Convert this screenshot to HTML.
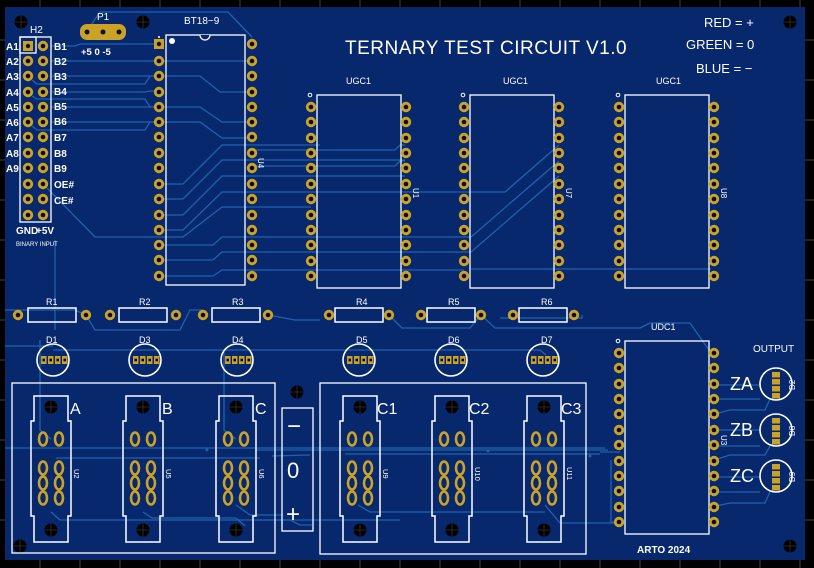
<!DOCTYPE html>
<html><head><meta charset="utf-8"><style>
html,body{margin:0;padding:0;background:#000;}
svg{display:block;}
text{font-family:"Liberation Sans",sans-serif;fill:#fff;}
</style></head><body>
<svg width="814" height="568" viewBox="0 0 814 568" xmlns="http://www.w3.org/2000/svg">
<defs>
<g id="p"><circle r="5.2" fill="#c9a227"/><circle r="2.3" fill="#0a0a0a"/></g>
<g id="o"><ellipse rx="4" ry="6.5" fill="none" stroke="#c9a227" stroke-width="2.6"/></g>
<g id="h"><circle r="6.5" fill="#000"/><path d="M-6.5 0H6.5M0 -6.5V6.5" stroke="#333" stroke-width="0.8"/></g>
<g id="led"><circle r="16" fill="none" stroke="#fff" stroke-width="1.6"/>
<rect x="-12" y="-4" width="5.5" height="8" fill="#c9a227"/><rect x="-5" y="-4" width="5.5" height="8" fill="#c9a227"/><rect x="2" y="-4" width="5.5" height="8" fill="#c9a227"/><rect x="9" y="-4" width="5.5" height="8" fill="#c9a227"/>
<rect x="-10.5" y="-1.3" width="2.5" height="2.6" fill="#000"/><rect x="-3.5" y="-1.3" width="2.5" height="2.6" fill="#000"/><rect x="3.5" y="-1.3" width="2.5" height="2.6" fill="#000"/><rect x="10.5" y="-1.3" width="2.5" height="2.6" fill="#000"/></g>
<g id="ledv"><circle r="16" fill="none" stroke="#fff" stroke-width="1.6"/>
<rect x="-4" y="-12" width="8" height="5.5" fill="#c9a227"/><rect x="-4" y="-5" width="8" height="5.5" fill="#c9a227"/><rect x="-4" y="2" width="8" height="5.5" fill="#c9a227"/><rect x="-4" y="9" width="8" height="5.5" fill="#c9a227"/></g>
<g id="con">
<path d="M-17 -11H17V14H20V109H17V135H-17V109H-20V14H-17Z" fill="none" stroke="#fff" stroke-width="1.5"/>
<use href="#h" x="0" y="0"/><use href="#h" x="0" y="123"/>
<use href="#o" x="-8" y="32"/><use href="#o" x="8" y="32"/>
<use href="#o" x="-8" y="61"/><use href="#o" x="8" y="61"/>
<use href="#o" x="-8" y="76"/><use href="#o" x="8" y="76"/>
<use href="#o" x="-8" y="91"/><use href="#o" x="8" y="91"/>
</g>
<g id="res"><rect x="-24" y="-7" width="48" height="14" fill="none" stroke="#fff" stroke-width="1.5"/></g>
</defs>
<rect width="814" height="568" fill="#000"/>
<g stroke="#444" stroke-width="1">
<path d="M0 40H5M0 80H5M0 120H5M0 160H5M0 200H5M0 240H5M0 280H5M0 320H5M0 360H5M0 400H5M0 440H5M0 480H5M0 520H5M805 40H814M805 80H814M805 120H814M805 160H814M805 200H814M805 240H814M805 280H814M805 320H814M805 360H814M805 400H814M805 440H814M805 480H814M805 520H814"/>
<path d="M40 0V7M80 0V7M120 0V7M160 0V7M200 0V7M240 0V7M280 0V7M320 0V7M360 0V7M400 0V7M440 0V7M480 0V7M520 0V7M560 0V7M600 0V7M640 0V7M680 0V7M720 0V7M760 0V7M800 0V7M40 560V568M80 560V568M120 560V568M160 560V568M200 560V568M240 560V568M280 560V568M320 560V568M360 560V568M400 560V568M440 560V568M480 560V568M520 560V568M560 560V568M600 560V568M640 560V568M680 560V568M720 560V568M760 560V568M800 560V568"/>
</g>
<rect x="5" y="7" width="800" height="553" fill="#07286c"/>

<g fill="none" stroke="#2062ad" stroke-width="1.3">
<path d="M89 28L100 12H228L252 37"/>
<path d="M51 46H75L80 44H159"/>
<path d="M51 61H233L240 61H252"/>
<path d="M51 76H200L220 92H252"/>
<path d="M32 80L37 84H145L150 76H159"/>
<path d="M51 92H145L150 91H159"/>
<path d="M32 96L37 99H145L150 107H159"/>
<path d="M51 107H200L222 122H252"/>
<path d="M32 126L37 130H145L150 122H159"/>
<path d="M51 122H200L222 138H252"/>
<path d="M159 184H183L222 145H320"/>
<path d="M159 199H183L222 160H405"/>
<path d="M159 215H183L222 176H405"/>
<path d="M159 230H183L222 192H311"/>
<path d="M47 188L95 237H183L222 207H311"/>
<path d="M159 245H213L222 237H311"/>
<path d="M159 260H213L222 252H311"/>
<path d="M159 276H213L222 270H464"/>
<path d="M252 150H395L400 145H405"/>
<path d="M252 166H395L400 161H405"/>
<path d="M311 192H505L559 145"/>
<path d="M311 237H471L559 161"/>
<path d="M311 252H471L559 176"/>
<path d="M471 269H711"/>
<path d="M55 240V330"/>
<path d="M86 315L95 330H180L190 310H203"/>
<path d="M268 315L295 320H320"/>
<path d="M389 315L402 328H470L481 315"/>
<path d="M5 310H75L86 315"/>
<path d="M500 318L582 318V315M574 315V318"/>
<path d="M481 315L495 328H640L650 323H690L711 353"/>
<path d="M5 346H53M53 350H330L359 350M359 350H454M454 350H540L546 355"/>
<path d="M40 340V430L51 439"/>
<path d="M224 350V430L236 439"/>
<path d="M5 448H605M255 450H608M600 452H620"/>
<path d="M56 458H260M272 456L310 455M345 454H600"/>
<path d="M51 512L60 520H400"/>
<path d="M143 512L152 518H236M236 518L245 526"/>
<path d="M257 520H290L300 525H312"/>
<path d="M236 505L250 515H283"/>
<path d="M358 505L370 512H545"/>
<path d="M545 505L560 523H619"/>
<path d="M611 460V522H619"/>
<path d="M711 399H760M711 385H760M711 415L730 410H765L770 399"/>
<path d="M711 430H760M711 446H760M711 461L730 455H765L770 446"/>
<path d="M711 477H760M711 492H760M711 507L730 503H765L770 492"/>
</g>
<g fill="#2062ad"><circle cx="207" cy="450" r="1.5"/><circle cx="488" cy="451" r="1.5"/><circle cx="590" cy="456" r="1.5"/></g>

<use href="#h" x="21" y="22"/><use href="#h" x="143" y="22"/><use href="#h" x="790" y="22"/>
<use href="#h" x="20" y="546"/><use href="#h" x="297" y="392"/><use href="#h" x="790" y="546"/>

<rect x="20" y="37" width="31" height="185" fill="none" stroke="#fff" stroke-width="1.3"/>
<rect x="20" y="37" width="16" height="16" fill="none" stroke="#fff" stroke-width="1.3"/>
<rect x="23" y="41" width="10" height="10" fill="#c9a227"/><circle cx="28" cy="46" r="2.2" fill="#111"/>
<g>
<use href="#p" x="43" y="46"/>
<use href="#p" x="28" y="61"/><use href="#p" x="43" y="61"/>
<use href="#p" x="28" y="76"/><use href="#p" x="43" y="76"/>
<use href="#p" x="28" y="92"/><use href="#p" x="43" y="92"/>
<use href="#p" x="28" y="107"/><use href="#p" x="43" y="107"/>
<use href="#p" x="28" y="122"/><use href="#p" x="43" y="122"/>
<use href="#p" x="28" y="137"/><use href="#p" x="43" y="137"/>
<use href="#p" x="28" y="153"/><use href="#p" x="43" y="153"/>
<use href="#p" x="28" y="168"/><use href="#p" x="43" y="168"/>
<use href="#p" x="28" y="184"/><use href="#p" x="43" y="184"/>
<use href="#p" x="28" y="199"/><use href="#p" x="43" y="199"/>
<use href="#p" x="28" y="215"/><use href="#p" x="43" y="215"/>
</g>
<g font-size="10" font-weight="bold">
<text x="6" y="50">A1</text><text x="6" y="65">A2</text><text x="6" y="80">A3</text><text x="6" y="96">A4</text><text x="6" y="111">A5</text><text x="6" y="126">A6</text><text x="6" y="141">A7</text><text x="6" y="157">A8</text><text x="6" y="172">A9</text>
<text x="54" y="50">B1</text><text x="54" y="65">B2</text><text x="54" y="80">B3</text><text x="54" y="95">B4</text><text x="54" y="110">B5</text><text x="54" y="125">B6</text><text x="54" y="141">B7</text><text x="54" y="157">B8</text><text x="54" y="172">B9</text><text x="54" y="188">OE#</text><text x="54" y="204">CE#</text>
<text x="16" y="234">GND</text><text x="36" y="234">+5V</text>
</g>
<text x="30" y="33" font-size="10">H2</text>
<text x="16" y="246" font-size="6">BINARY INPUT</text>

<rect x="80" y="24" width="46" height="16" rx="7" fill="#c9a227"/>
<circle cx="87" cy="32" r="2.5" fill="#111"/><circle cx="103" cy="32" r="2.5" fill="#111"/><circle cx="119" cy="32" r="2.5" fill="#111"/>
<text x="97" y="20" font-size="10">P1</text>
<text x="81" y="55" font-size="9.5" font-weight="bold">+5  0  -5</text>

<rect x="166" y="35" width="79" height="250" fill="none" stroke="#fff" stroke-width="1.3"/>
<path d="M200 35A5 5 0 0 0 210 35" fill="#07286c" stroke="#fff" stroke-width="1.3"/>
<circle cx="172" cy="41" r="3" fill="#fff"/><circle cx="159" cy="37" r="1" fill="#fff"/>
<rect x="154" y="39" width="10" height="10" fill="#c9a227"/><circle cx="159" cy="44" r="2.2" fill="#111"/>
<text x="184" y="24" font-size="10">BT18−9</text>
<text x="258" y="158" font-size="8" transform="rotate(90 258 158)">U4</text>
<g>
<use href="#p" x="252" y="44"/>
<use href="#p" x="159" y="61"/><use href="#p" x="252" y="61"/>
<use href="#p" x="159" y="76"/><use href="#p" x="252" y="76"/>
<use href="#p" x="159" y="92"/><use href="#p" x="252" y="92"/>
<use href="#p" x="159" y="107"/><use href="#p" x="252" y="107"/>
<use href="#p" x="159" y="122"/><use href="#p" x="252" y="122"/>
<use href="#p" x="159" y="137"/><use href="#p" x="252" y="137"/>
<use href="#p" x="159" y="153"/><use href="#p" x="252" y="153"/>
<use href="#p" x="159" y="168"/><use href="#p" x="252" y="168"/>
<use href="#p" x="159" y="184"/><use href="#p" x="252" y="184"/>
<use href="#p" x="159" y="199"/><use href="#p" x="252" y="199"/>
<use href="#p" x="159" y="215"/><use href="#p" x="252" y="215"/>
<use href="#p" x="159" y="230"/><use href="#p" x="252" y="230"/>
<use href="#p" x="159" y="245"/><use href="#p" x="252" y="245"/>
<use href="#p" x="159" y="260"/><use href="#p" x="252" y="260"/>
<use href="#p" x="159" y="276"/><use href="#p" x="252" y="276"/>
</g>

<g id="chip1">
<rect x="317" y="95" width="84" height="193" fill="none" stroke="#fff" stroke-width="1.3"/>
<circle cx="310" cy="95" r="1.8" fill="none" stroke="#fff"/>
<use href="#p" x="311" y="107"/><use href="#p" x="406" y="107"/>
<use href="#p" x="311" y="122"/><use href="#p" x="406" y="122"/>
<use href="#p" x="311" y="138"/><use href="#p" x="406" y="138"/>
<use href="#p" x="311" y="153"/><use href="#p" x="406" y="153"/>
<use href="#p" x="311" y="168"/><use href="#p" x="406" y="168"/>
<use href="#p" x="311" y="184"/><use href="#p" x="406" y="184"/>
<use href="#p" x="311" y="199"/><use href="#p" x="406" y="199"/>
<use href="#p" x="311" y="215"/><use href="#p" x="406" y="215"/>
<use href="#p" x="311" y="230"/><use href="#p" x="406" y="230"/>
<use href="#p" x="311" y="245"/><use href="#p" x="406" y="245"/>
<use href="#p" x="311" y="261"/><use href="#p" x="406" y="261"/>
<use href="#p" x="311" y="276"/><use href="#p" x="406" y="276"/>
</g>
<use href="#chip1" x="153" y="0"/>
<use href="#chip1" x="308" y="0"/>
<use href="#chip1" x="308" y="246"/>
<text x="346" y="84" font-size="9">UGC1</text>
<text x="503" y="84" font-size="9">UGC1</text>
<text x="656" y="84" font-size="9">UGC1</text>
<text x="413" y="188" font-size="8" transform="rotate(90 413 188)">U1</text>
<text x="566" y="188" font-size="8" transform="rotate(90 566 188)">U7</text>
<text x="721" y="188" font-size="8" transform="rotate(90 721 188)">U8</text>
<text x="651" y="330" font-size="9">UDC1</text>
<text x="721" y="435" font-size="8" transform="rotate(90 721 435)">U3</text>
<text x="637" y="553" font-size="10" font-weight="bold">ARTO 2024</text>

<g>
<use href="#res" x="52" y="315"/><use href="#p" x="18" y="315"/><use href="#p" x="86" y="315"/>
<use href="#res" x="143" y="315"/><use href="#p" x="110" y="315"/><use href="#p" x="176" y="315"/>
<use href="#res" x="236" y="315"/><use href="#p" x="203" y="315"/><use href="#p" x="268" y="315"/>
<use href="#res" x="359" y="315"/><use href="#p" x="329" y="315"/><use href="#p" x="389" y="315"/>
<use href="#res" x="451" y="315"/><use href="#p" x="421" y="315"/><use href="#p" x="481" y="315"/>
<use href="#res" x="543" y="315"/><use href="#p" x="513" y="315"/><use href="#p" x="574" y="315"/>
</g>
<g font-size="9">
<text x="46" y="305">R1</text><text x="139" y="305">R2</text><text x="232" y="305">R3</text><text x="356" y="305">R4</text><text x="448" y="305">R5</text><text x="541" y="305">R6</text>
<text x="46" y="343">D1</text><text x="139" y="343">D3</text><text x="232" y="343">D4</text><text x="356" y="343">D5</text><text x="448" y="343">D6</text><text x="541" y="343">D7</text>
</g>
<use href="#led" x="53" y="360"/><use href="#led" x="145" y="360"/><use href="#led" x="237" y="360"/>
<use href="#led" x="359" y="360"/><use href="#led" x="451" y="360"/><use href="#led" x="543" y="360"/>

<rect x="12" y="383" width="263" height="170" fill="none" stroke="#fff" stroke-width="1.3"/>
<rect x="320" y="383" width="266" height="171" fill="none" stroke="#fff" stroke-width="1.3"/>
<rect x="282" y="408" width="31" height="123" fill="none" stroke="#fff" stroke-width="1.3"/>
<text x="287" y="434" font-size="24">−</text>
<text x="287" y="478" font-size="22">0</text>
<text x="286" y="522" font-size="24">+</text>
<use href="#con" x="51" y="407"/><use href="#con" x="143" y="407"/><use href="#con" x="236" y="407"/>
<use href="#con" x="360" y="407"/><use href="#con" x="452" y="407"/><use href="#con" x="544" y="407"/>
<g font-size="16">
<text x="70" y="414">A</text><text x="162" y="414">B</text><text x="255" y="414">C</text>
<text x="377" y="414">C1</text><text x="469" y="414">C2</text><text x="561" y="414">C3</text>
</g>
<g font-size="7.5">
<text x="74" y="469" transform="rotate(90 74 469)">U2</text>
<text x="166" y="469" transform="rotate(90 166 469)">U5</text>
<text x="259" y="469" transform="rotate(90 259 469)">U6</text>
<text x="383" y="469" transform="rotate(90 383 469)">U9</text>
<text x="475" y="467" transform="rotate(90 475 467)">U10</text>
<text x="567" y="467" transform="rotate(90 567 467)">U11</text>
</g>

<text x="753" y="352" font-size="10">OUTPUT</text>
<use href="#ledv" x="776" y="384"/><use href="#ledv" x="776" y="430"/><use href="#ledv" x="776" y="476"/>
<g font-size="18"><text x="730" y="390">ZA</text><text x="730" y="436">ZB</text><text x="730" y="482">ZC</text></g>
<g font-size="8">
<text x="795" y="376" transform="rotate(-90 795 376) translate(-14 0)">D2</text>
<text x="795" y="422" transform="rotate(-90 795 422) translate(-14 0)">D8</text>
<text x="795" y="468" transform="rotate(-90 795 468) translate(-14 0)">D9</text>
</g>

<text x="345" y="54" font-size="19" letter-spacing="0.5">TERNARY TEST CIRCUIT V1.0</text>
<g font-size="13"><text x="704" y="27">RED = +</text><text x="686" y="49">GREEN = 0</text><text x="696" y="73">BLUE = −</text></g>
</svg>
</body></html>
